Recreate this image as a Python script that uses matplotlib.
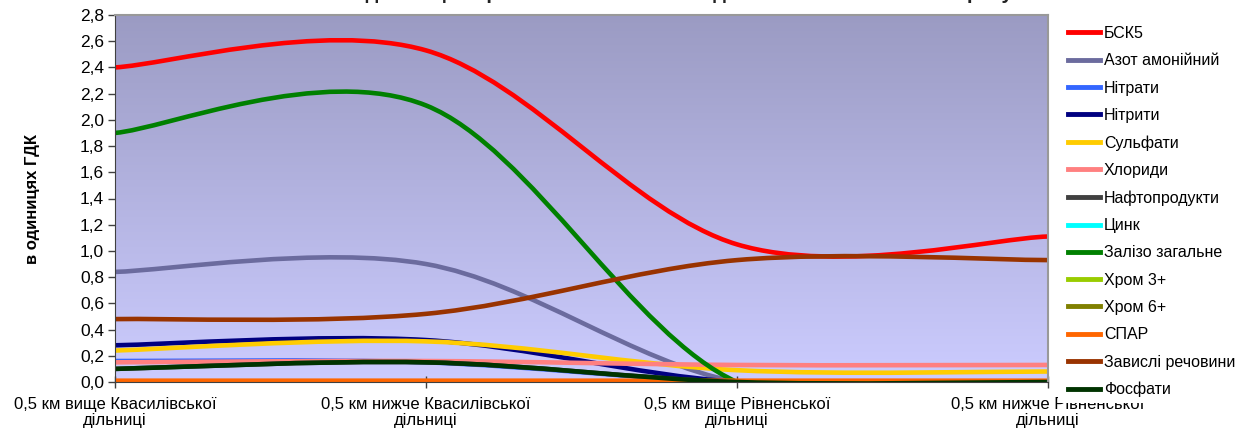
import numpy as np
from matplotlib import pyplot as plt
from matplotlib.path import Path
from matplotlib.patches import PathPatch, Rectangle
from matplotlib.lines import Line2D
from matplotlib.ticker import FuncFormatter

plt.rcParams['font.family'] = ['Liberation Sans', 'DejaVu Sans']

# точки відбору
stations = ['0,5 км вище Квасилівської\nдільниці',
            '0,5 км нижче Квасилівської\nдільниці',
            '0,5 км вище Рівненської\nдільниці',
            '0,5 км нижче Рівненської\nдільниці']

# показники, в одиницях ГДК
bsk5 = [2.40, 2.53, 1.05, 1.11]
azot_amon = [0.84, 0.90, 0.0, 0.0]
nitraty = [0.16, 0.15, 0.0, 0.0]
nitryty = [0.28, 0.32, 0.0, 0.0]
sulfaty = [0.24, 0.31, 0.09, 0.08]
khlorydy = [0.15, 0.16, 0.13, 0.13]
naftoprod = [0.10, 0.15, 0.0, 0.0]
tsynk = [0.0, 0.0, 0.0, 0.0]
zalizo = [1.90, 2.11, 0.0, 0.0]
khrom3 = [0.0, 0.0, 0.0, 0.0]
khrom6 = [0.0, 0.0, 0.0, 0.0]
spar = [0.01, 0.01, 0.01, 0.01]
zavysli = [0.48, 0.52, 0.93, 0.93]
fosfaty = [0.10, 0.15, 0.0, 0.0]

series = [
    ('БСК5', bsk5, '#FF0000'),
    ('Азот амонійний', azot_amon, '#6B6B9E'),
    ('Нітрати', nitraty, '#3366FF'),
    ('Нітрити', nitryty, '#000080'),
    ('Сульфати', sulfaty, '#FFCC00'),
    ('Хлориди', khlorydy, '#FF8080'),
    ('Нафтопродукти', naftoprod, '#404040'),
    ('Цинк', tsynk, '#00FFFF'),
    ('Залізо загальне', zalizo, '#008000'),
    ('Хром 3+', khrom3, '#99CC00'),
    ('Хром 6+', khrom6, '#808000'),
    ('СПАР', spar, '#FF6600'),
    ('Завислі речовини', zavysli, '#993300'),
    ('Фосфати', fosfaty, '#003300'),
]


def smooth_path(xs, ys):
    # згладжена лінія як в Excel (кубічні криві Безьє)
    pts = np.column_stack([xs, ys]).astype(float)
    n = len(pts)
    verts = [pts[0]]
    codes = [Path.MOVETO]
    for i in range(n - 1):
        p0 = pts[i - 1] if i > 0 else pts[i]
        p1 = pts[i]
        p2 = pts[i + 1]
        p3 = pts[i + 2] if i + 2 < n else pts[i + 1]
        c1 = p1 + (p2 - p0) / 6
        c2 = p2 - (p3 - p1) / 6
        verts += [c1, c2, p2]
        codes += [Path.CURVE4] * 3
    return Path(verts, codes)


fig = plt.figure(figsize=(12.46, 4.34), dpi=100)
ax = fig.add_axes([115 / 1246, 1 - 382 / 434, 933 / 1246, 367 / 434])

# фон з градієнтом
grad = np.linspace(0, 1, 256).reshape(-1, 1)
top = np.array([155, 155, 195]) / 255
bottom = np.array([204, 204, 255]) / 255
img = top + (bottom - top) * grad[:, :, None]
ax.imshow(img, extent=[0, 3, 0, 2.8], aspect='auto', origin='upper', zorder=0)

x = np.arange(len(stations))
handles = []
for i, (name, vals, color) in enumerate(series):
    patch = PathPatch(smooth_path(x, vals), fill=False, edgecolor=color,
                      linewidth=3.3, capstyle='round', joinstyle='round', zorder=2 + i * 0.01)
    ax.add_patch(patch)
    handles.append(Line2D([], [], color=color, linewidth=3.5, label=name))

ax.set_xlim(0, 3)
ax.set_ylim(0, 2.8)
ax.set_yticks(np.arange(0, 2.81, 0.2))
ax.yaxis.set_major_formatter(FuncFormatter(lambda v, p: f'{v:.1f}'.replace('.', ',')))
ax.set_xticks(x)
ax.set_xticklabels(stations, fontsize=12, linespacing=1.1)
ax.tick_params(axis='y', labelsize=12.5, direction='out', length=5, width=1, color='#404040', pad=3)
ax.tick_params(axis='x', direction='inout', length=8, width=1, color='#404040', pad=7)
for s in ['left', 'bottom']:
    ax.spines[s].set_color('#404040')
for s in ['top', 'right']:
    ax.spines[s].set_color('#999999')
    ax.spines[s].set_linewidth(1.5)
ax.set_ylabel('в одиницях ГДК', fontsize=12, fontweight='bold')
ax.yaxis.set_label_coords(-(115 - 40) / 933, 0.5)

fig.text(627 / 1246, 1 + 1 / 434,
         'Рівненської дільниць Горинь ВКП "Рівнеоблводоканал" за квітень 2017 року',
         ha='center', va='baseline', fontsize=14.5, fontweight='bold', color='#222222')

# біле тло легенди поверх підпису останньої точки
fig.add_artist(Rectangle((1058 / 1246, 1 - 403 / 434), 188 / 1246, 403 / 434,
                         transform=fig.transFigure, facecolor='white', edgecolor='none', zorder=3))

leg = fig.legend(handles=handles, loc='upper left', bbox_to_anchor=(1068 / 1246, 1 - 26 / 434),
                 fontsize=11.5, frameon=False,
                 handlelength=2.0, handletextpad=0.25, labelspacing=0.77, borderpad=0,
                 borderaxespad=0)

fig.savefig('out.png', dpi=100)
